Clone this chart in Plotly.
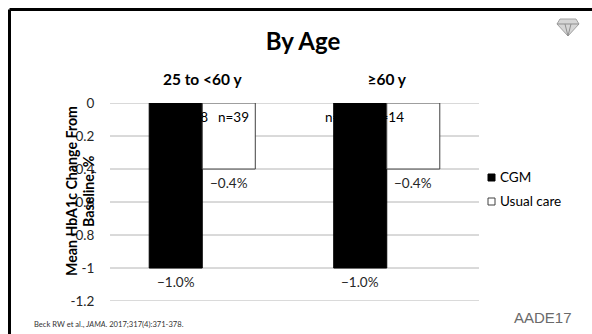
import plotly.graph_objects as go

# ---- data ----
categories = ["25 to <60 y", "≥60 y"]
series_names = ["CGM", "Usual care"]
cgm_values = [-1.0, -1.0]
uc_values = [-0.4, -0.4]
cgm_labels = ["−1.0%", "−1.0%"]
uc_labels = ["−0.4%", "−0.4%"]
cgm_n = ["n=38", "n=14"]
uc_n = ["n=39", "n=14"]
y_tickvals = [0, -0.2, -0.4, -0.6, -0.8, -1.0, -1.2]
y_ticktext = ["0", "-0.2", "-0.4", "-0.6", "-0.8", "-1", "-1.2"]
y_title_lines = ["Mean HbA1c Change From", "Baseline, %"]

W, H = 592, 334
L, R, T, B = 110, 479, 103, 301  # plot area in pixels


def px(x):
    return (x - L) / (R - L)


def py(y):
    return (B - y) / (B - T)


FONT = "Lato, Calibri, 'Open Sans', sans-serif"
GRID = "#b4b4b4"

fig = go.Figure()

# gridlines: a line trace on the base subplot (x: 0..1), drawn beneath the bar subplot
gx, gy = [], []
for v in y_tickvals:
    gx += [0, 1, None]
    gy += [v, v, None]
fig.add_trace(go.Scatter(x=gx, y=gy, mode="lines", xaxis="x", yaxis="y",
                         line=dict(color=GRID, width=1), hoverinfo="skip",
                         showlegend=False, cliponaxis=False))

# bars on an overlaying categorical axis (drawn above the gridlines)
fig.add_trace(go.Bar(x=categories, y=cgm_values, name=series_names[0], xaxis="x2", yaxis="y",
                     marker=dict(color="#000000", line=dict(color="#000000", width=1)),
                     showlegend=False))
fig.add_trace(go.Bar(x=categories, y=uc_values, name=series_names[1], xaxis="x2", yaxis="y",
                     marker=dict(color="#ffffff", line=dict(color="#404040", width=1)),
                     showlegend=False))

ann = []
for i, c in enumerate(categories):
    ann.append(dict(x=c, y=cgm_values[i], xref="x2", yref="y", xshift=-26.5, yshift=-14,
                    text=cgm_labels[i], showarrow=False, yanchor="middle",
                    font=dict(size=13.5, color="#262626", family=FONT)))
    ann.append(dict(x=c, y=uc_values[i], xref="x2", yref="y", xshift=26.5, yshift=-14,
                    text=uc_labels[i], showarrow=False, yanchor="middle",
                    font=dict(size=13.5, color="#262626", family=FONT)))
n_shift_cgm = [17, -20]
n_shift_uc = [4.5, -25]
for i, c in enumerate(categories):
    ann.append(dict(x=c, y=0, xref="x2", yref="y", xshift=-26.5 + n_shift_cgm[i], yshift=-14,
                    text=cgm_n[i], showarrow=False, yanchor="middle",
                    font=dict(size=13.5, color="#000000", family=FONT)))
for i, c in enumerate(categories):
    ann.append(dict(x=c, y=0, xref="x2", yref="y", xshift=26.5 + n_shift_uc[i], yshift=-14,
                    text=uc_n[i], showarrow=False, yanchor="middle",
                    font=dict(size=13.5, color="#000000", family=FONT)))

for xpos, line in zip([71, 88], y_title_lines):
    ann.append(dict(x=px(xpos), y=py(191), xref="paper", yref="paper",
                    text=f"<b>{line}</b>", textangle=-90,
                    showarrow=False, xanchor="center", yanchor="middle",
                    font=dict(size=14.2, color="#000000", family=FONT)))
ann.append(dict(x=px(498), y=py(177), xref="paper", yref="paper", text=series_names[0],
                showarrow=False, xanchor="left", yanchor="middle",
                font=dict(size=13.5, color="#000000", family=FONT)))
ann.append(dict(x=px(498), y=py(201), xref="paper", yref="paper", text=series_names[1],
                showarrow=False, xanchor="left", yanchor="middle",
                font=dict(size=13.5, color="#000000", family=FONT)))
ann.append(dict(x=px(32), y=py(324), xref="paper", yref="paper",
                text="Beck RW et al., <i>JAMA</i>. 2017;317(4):371-378.",
                showarrow=False, xanchor="left", yanchor="middle",
                font=dict(size=7.6, color="#333333", family=FONT)))
ann.append(dict(x=px(543), y=py(317), xref="paper", yref="paper", text="AADE17",
                showarrow=False, xanchor="center", yanchor="middle",
                font=dict(size=15, color="#6a6a6a", family="'Liberation Sans Narrow', 'Liberation Sans', sans-serif")))

shapes = [
    dict(type="line", xref="paper", yref="paper", x0=px(9.5), x1=px(600), y0=py(9.5), y1=py(9.5),
         line=dict(color="#000000", width=3)),
    dict(type="line", xref="paper", yref="paper", x0=px(9.5), x1=px(9.5), y0=py(9.5), y1=py(340),
         line=dict(color="#000000", width=3)),
    dict(type="rect", xref="paper", yref="paper", x0=px(488), x1=px(495), y0=py(181), y1=py(174),
         fillcolor="#000000", line=dict(color="#000000", width=1)),
    dict(type="rect", xref="paper", yref="paper", x0=px(488), x1=px(495), y0=py(205), y1=py(198),
         fillcolor="#ffffff", line=dict(color="#404040", width=1)),
]
dpts = [(560, 19), (576, 19), (579, 24), (568, 36), (557, 24)]
path = "M " + " L ".join(f"{px(a):.5f},{py(b):.5f}" for a, b in dpts) + " Z"
shapes.append(dict(type="path", xref="paper", yref="paper", path=path,
                   fillcolor="#d6d6d6", line=dict(color="#a0a0a0", width=1)))
shapes.append(dict(type="path", xref="paper", yref="paper",
                   path=f"M {px(557):.5f},{py(24):.5f} L {px(579):.5f},{py(24):.5f} M {px(565):.5f},{py(24):.5f} L {px(568):.5f},{py(36):.5f} L {px(571):.5f},{py(24):.5f}",
                   line=dict(color="#909090", width=1)))

fig.update_layout(
    width=W, height=H,
    margin=dict(l=L, r=W - R, t=T, b=H - B, pad=0),
    paper_bgcolor="#ffffff", plot_bgcolor="#ffffff",
    barmode="group", bargap=0.425, bargroupgap=0,
    title=dict(text="<b>By Age</b>", x=303 / W, y=1 - 42 / H, xanchor="center", yanchor="middle",
               font=dict(size=24, color="#000000", family=FONT)),
    xaxis=dict(range=[0, 1], visible=False, fixedrange=True),
    xaxis2=dict(overlaying="x", anchor="y", side="top", showgrid=False, showline=False,
                ticks="", zeroline=False,
                tickfont=dict(size=15.5, color="#000000", family=FONT, weight="bold"),
                ticklabelstandoff=14),
    yaxis=dict(range=[-1.2, 0], tickvals=y_tickvals, ticktext=y_ticktext,
               showgrid=False, zeroline=False, showline=False,
               ticks="outside", ticklen=12, tickcolor="rgba(0,0,0,0)",
               tickfont=dict(size=13.5, color="#262626", family=FONT)),
    annotations=ann, shapes=shapes, showlegend=False,
)

fig.write_html("out.html")
